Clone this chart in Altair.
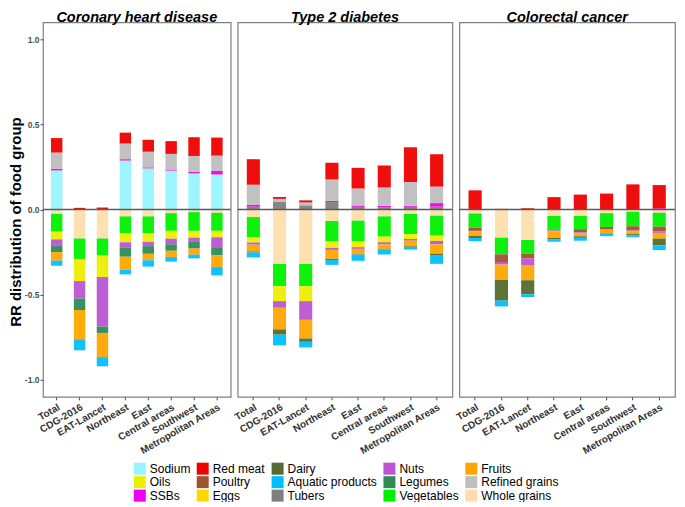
import altair as alt
import pandas as pd

scenarios = ["Total", "CDG-2016", "EAT-Lancet", "Northeast", "East",
             "Central areas", "Southwest", "Metropolitan Areas"]
diseases = ["Coronary heart disease", "Type 2 diabetes", "Colorectal cancer"]

# legend order (filled column by column, 3 rows x 5 columns)
legend_foods = ["Sodium", "Oils", "SSBs", "Red meat", "Poultry", "Eggs",
                "Dairy", "Aquatic products", "Tubers", "Nuts", "Legumes",
                "Vegetables", "Fruits", "Refined grains", "Whole grains"]
legend_colors = ["#98F5FF", "#EEEE00", "#EE00EE", "#EE0000", "#A0522D", "#FFD700",
                 "#556B2F", "#00BFFF", "#7F7F7F", "#BA55D3", "#2E8B57",
                 "#00F000", "#FFA500", "#BEBEBE", "#FFDEAD"]

# stacking sequence away from zero (positives and negatives stack separately)
stack_seq = {"Tubers": 1, "Sodium": 2, "SSBs": 3, "Refined grains": 4, "Red meat": 5,
             "Whole grains": 1, "Vegetables": 2, "Oils": 3, "Poultry": 4, "Nuts": 5,
             "Legumes": 6, "Fruits": 7, "Dairy": 8, "Aquatic products": 9, "Eggs": 10}

chd = {
    "Sodium":           [0.230, 0, 0, 0.288, 0.242, 0.229, 0.213, 0.206],
    "SSBs":             [0.010, 0, 0, 0.008, 0.006, 0.006, 0.008, 0.021],
    "Refined grains":   [0.095, 0, 0, 0.092, 0.092, 0.092, 0.094, 0.090],
    "Red meat":         [0.085, 0.010, 0.012, 0.064, 0.070, 0.075, 0.110, 0.106],
    "Whole grains":     [-0.025, -0.170, -0.170, -0.040, -0.040, -0.021, -0.015, -0.019],
    "Vegetables":       [-0.105, -0.120, -0.100, -0.098, -0.098, -0.104, -0.110, -0.106],
    "Oils":             [-0.045, -0.130, -0.126, -0.054, -0.052, -0.046, -0.040, -0.038],
    "Nuts":             [-0.035, -0.103, -0.292, -0.033, -0.025, -0.033, -0.025, -0.058],
    "Legumes":          [-0.040, -0.067, -0.037, -0.052, -0.045, -0.038, -0.039, -0.048],
    "Fruits":           [-0.050, -0.172, -0.142, -0.077, -0.038, -0.037, -0.036, -0.069],
    "Aquatic products": [-0.030, -0.065, -0.054, -0.027, -0.037, -0.027, -0.022, -0.049],
}
t2d = {
    "Tubers":           [0.017, 0.045, 0.025, 0.044, 0.016, 0.014, 0.016, 0.017],
    "SSBs":             [0.010, 0, 0, 0.008, 0.008, 0.008, 0.006, 0.021],
    "Refined grains":   [0.119, 0.018, 0.017, 0.125, 0.100, 0.108, 0.140, 0.097],
    "Red meat":         [0.150, 0.011, 0.012, 0.098, 0.121, 0.129, 0.204, 0.190],
    "Whole grains":     [-0.044, -0.319, -0.319, -0.067, -0.065, -0.040, -0.025, -0.036],
    "Vegetables":       [-0.118, -0.131, -0.131, -0.118, -0.121, -0.119, -0.119, -0.117],
    "Oils":             [-0.032, -0.088, -0.088, -0.040, -0.035, -0.033, -0.029, -0.031],
    "Nuts":             [-0.012, -0.039, -0.110, -0.012, -0.010, -0.012, -0.010, -0.021],
    "Fruits":           [-0.040, -0.127, -0.110, -0.053, -0.031, -0.027, -0.033, -0.054],
    "Dairy":            [-0.006, -0.031, -0.019, -0.006, -0.003, -0.002, -0.004, -0.012],
    "Aquatic products": [-0.029, -0.063, -0.033, -0.029, -0.036, -0.031, -0.015, -0.048],
}
crc = {
    "SSBs":             [0, 0, 0, 0, 0, 0, 0, 0.008],
    "Red meat":         [0.113, 0.004, 0.008, 0.073, 0.088, 0.094, 0.148, 0.136],
    "Whole grains":     [-0.023, -0.165, -0.179, -0.037, -0.037, -0.021, -0.013, -0.019],
    "Vegetables":       [-0.083, -0.098, -0.081, -0.080, -0.078, -0.081, -0.085, -0.081],
    "Poultry":          [-0.019, -0.045, -0.027, -0.006, -0.019, -0.015, -0.025, -0.029],
    "Nuts":             [-0.004, -0.015, -0.038, -0.005, -0.004, -0.002, -0.002, -0.008],
    "Fruits":           [-0.025, -0.090, -0.090, -0.038, -0.019, -0.020, -0.019, -0.034],
    "Dairy":            [-0.013, -0.122, -0.083, -0.008, -0.009, -0.003, -0.008, -0.039],
    "Aquatic products": [-0.019, -0.034, -0.015, -0.015, -0.017, -0.014, -0.010, -0.028],
}
y_ticks = [-1.0, -0.5, 0.0, 0.5, 1.0]

FONT = "Liberation Sans"
PANEL_H = 375


def to_frame(table):
    rows = []
    for food, vals in table.items():
        for sc, v in zip(scenarios, vals):
            if v != 0:
                rows.append({"scenario": sc, "food": food, "value": v,
                             "ord": stack_seq[food]})
    return pd.DataFrame(rows)


def panel(title, table, width, show_y):
    df = to_frame(table)
    if show_y:
        yaxis = alt.Axis(values=y_ticks, title="RR distribution of food group",
                         labelExpr="datum.value < 0 ? '-' + format(-datum.value, '.1f') : format(datum.value, '.1f')",
                         titleFontSize=15, titleFontWeight="bold", titleColor="black",
                         titleX=-19, titleY=PANEL_H / 2 + 12, titleAngle=270,
                         titleBaseline="bottom", titleAlign="center",
                         labelFontSize=8.5, labelFontWeight="bold",
                         labelColor="#4d4d4d", labelPadding=1, tickSize=3,
                         tickColor="#4d4d4d", grid=False, domain=False)
    else:
        yaxis = None
    yscale = alt.Scale(domain=[-1.1, 1.1], nice=False, zero=False)
    bars = alt.Chart(df).mark_bar(opacity=0.95).encode(
        x=alt.X("scenario:N", sort=scenarios,
                scale=alt.Scale(paddingInner=0.5, paddingOuter=0.35),
                axis=alt.Axis(title=None, labelAngle=-30, labelAlign="right",
                              labelBaseline="top", labelFontSize=10,
                              labelFontWeight="bold", labelColor="#333333",
                              labelPadding=2, tickSize=3, tickColor="#4d4d4d",
                              domain=False, grid=False)),
        y=alt.Y("value:Q", stack="zero", scale=yscale, axis=yaxis),
        color=alt.Color("food:N",
                        scale=alt.Scale(domain=legend_foods, range=legend_colors),
                        legend=alt.Legend(title=None, orient="none", legendX=91,
                                          legendY=441, columns=5, symbolType="square",
                                          symbolSize=144, symbolStrokeWidth=0,
                                          symbolOpacity=1, labelFontSize=12,
                                          labelColor="black", labelFont=FONT,
                                          labelOffset=4, columnPadding=6,
                                          rowPadding=1.5, padding=0)),
        order=alt.Order("ord:Q", sort="ascending"),
    )
    zero = alt.Chart(pd.DataFrame({"z": [0]})).mark_rule(
        color="#5a5a5a", strokeWidth=1.5).encode(y=alt.datum(0, scale=yscale))
    return alt.layer(bars, zero).properties(
        width=width, height=PANEL_H,
        title=alt.TitleParams(title, fontSize=14.5, fontWeight="bold",
                              fontStyle="italic", font=FONT, color="black",
                              anchor="middle", offset=-3))


chart = alt.hconcat(
    panel(diseases[0], chd, 188, True),
    panel(diseases[1], t2d, 215, False),
    panel(diseases[2], crc, 216, False),
    spacing=7, bounds="flush",
).resolve_scale(color="shared").properties(padding=0).configure(
    font=FONT
).configure_view(stroke="#7f7f7f", strokeWidth=1.2)

chart.save("out.html", embed_options={"renderer": "svg", "actions": False})
